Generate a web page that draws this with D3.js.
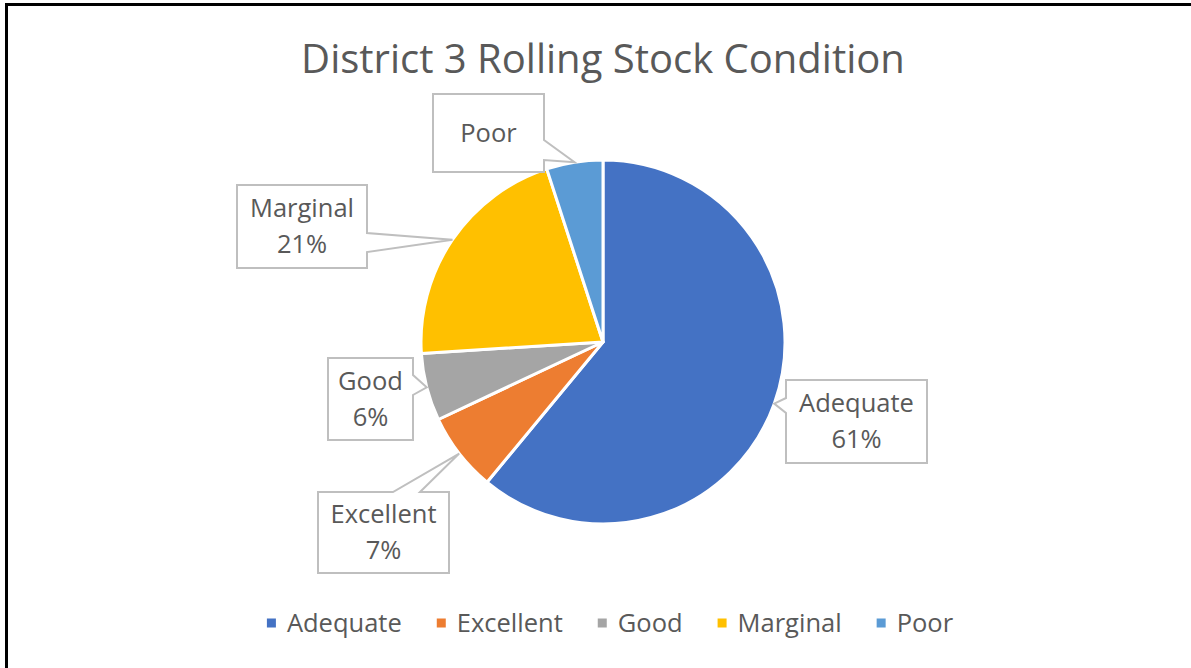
<!DOCTYPE html>
<html>
<head>
<meta charset="utf-8">
<script src="https://cdn.jsdelivr.net/npm/d3@7"></script>
<style>
  body { margin: 0; background: #fff; }
  svg { display: block; font-family: "Open Sans", sans-serif; }
</style>
</head>
<body>
<div id="chart"></div>
<script>
// data
var categories = ["Adequate", "Excellent", "Good", "Marginal", "Poor"];
var values = [61, 7, 6, 21, 5];
var showPct = [true, true, true, true, false];
var colors = ["#4472C4", "#ED7D31", "#A5A5A5", "#FFC000", "#5B9BD5"];
var title = "District 3 Rolling Stock Condition";

// callout boxes: x, y, w, h, side the pointer leaves from, base offsets along that side
var callouts = [
    { x: 786, y: 380, w: 141, h: 83, side: "left", b0: 18, b1: 33 },
    { x: 318, y: 492, w: 131, h: 81, side: "top", b0: 75, b1: 102 },
    { x: 328, y: 358, w: 85, h: 82, side: "right", b0: 17, b1: 37 },
    { x: 237, y: 185, w: 130, h: 83, side: "right", b0: 48, b1: 67 },
    { x: 433, y: 94, w: 111, h: 78, side: "right", b0: 46, b1: 66 }
];

var W = 1191, H = 668;
var cx = 603, cy = 342, r = 182;

var svg = d3.select("#chart").append("svg")
    .attr("width", W)
    .attr("height", H);

// outer frame
svg.append("rect")
    .attr("x", 6.5).attr("y", 4.5)
    .attr("width", W + 20).attr("height", H + 20)
    .attr("fill", "white")
    .attr("stroke", "black")
    .attr("stroke-width", 3);

svg.append("text")
    .attr("x", cx).attr("y", 73)
    .attr("text-anchor", "middle")
    .style("font-size", "40px")
    .style("fill", "#595959")
    .text(title);

var pie = d3.pie().sort(null).value(function (d) { return d; });
var arcs = pie(values);
var arc = d3.arc().innerRadius(0).outerRadius(r);
var edge = d3.arc().innerRadius(r).outerRadius(r);

var g = svg.append("g").attr("transform", "translate(" + cx + "," + cy + ")");

g.selectAll("path.slice")
    .data(arcs)
    .enter()
    .append("path")
    .attr("class", "slice")
    .attr("d", arc)
    .attr("fill", function (d, i) { return colors[i]; })
    .attr("stroke", "white")
    .attr("stroke-width", 3)
    .attr("stroke-linejoin", "round");

// callout path with pointer to the pie edge
function calloutPath(c, tip) {
    var x0 = c.x, y0 = c.y, x1 = c.x + c.w, y1 = c.y + c.h;
    var p = [];
    p.push([x0, y0]);
    if (c.side == "top") { p.push([x0 + c.b0, y0], tip, [x0 + c.b1, y0]); }
    p.push([x1, y0]);
    if (c.side == "right") { p.push([x1, y0 + c.b0], tip, [x1, y0 + c.b1]); }
    p.push([x1, y1]);
    p.push([x0, y1]);
    if (c.side == "left") { p.push([x0, y0 + c.b1], tip, [x0, y0 + c.b0]); }
    return "M" + p.map(function (q) { return q[0] + "," + q[1]; }).join("L") + "Z";
}

var labels = svg.selectAll("g.callout")
    .data(arcs)
    .enter()
    .append("g")
    .attr("class", "callout");

labels.append("path")
    .attr("d", function (d, i) {
        var t = edge.centroid(d);
        return calloutPath(callouts[i], [t[0] + cx, t[1] + cy]);
    })
    .attr("fill", "white")
    .attr("stroke", "#BFBFBF")
    .attr("stroke-width", 2)
    .attr("stroke-linejoin", "miter");

labels.each(function (d, i) {
    var c = callouts[i];
    var mid = c.y + c.h / 2;
    var lines = showPct[i] ? [categories[i], Math.round(d.data) + "%"] : [categories[i]];
    var step = 36;
    lines.forEach(function (txt, k) {
        d3.select(this).append("text")
            .attr("x", c.x + c.w / 2)
            .attr("y", mid + (k - (lines.length - 1) / 2) * step)
            .attr("dy", "0.35em")
            .attr("text-anchor", "middle")
            .style("font-size", "25.5px")
            .style("fill", "#595959")
            .text(txt);
    }, this);
});

// legend
var legend = svg.append("g");
var items = legend.selectAll("g")
    .data(categories)
    .enter()
    .append("g");
items.append("rect")
    .attr("width", 9).attr("height", 9)
    .attr("y", -4.5)
    .attr("fill", function (d, i) { return colors[i]; });
items.append("text")
    .attr("x", 20)
    .attr("dy", "0.35em")
    .style("font-size", "25.5px")
    .style("fill", "#595959")
    .text(function (d) { return d; });

var gap = 35;
var offs = [], xpos = 0;
items.each(function () {
    offs.push(xpos);
    xpos += 20 + d3.select(this).select("text").node().getComputedTextLength() + gap;
});
var total = xpos - gap;
items.attr("transform", function (d, i) {
    return "translate(" + (610 - total / 2 + offs[i]) + ",623)";
});
</script>
</body>
</html>
